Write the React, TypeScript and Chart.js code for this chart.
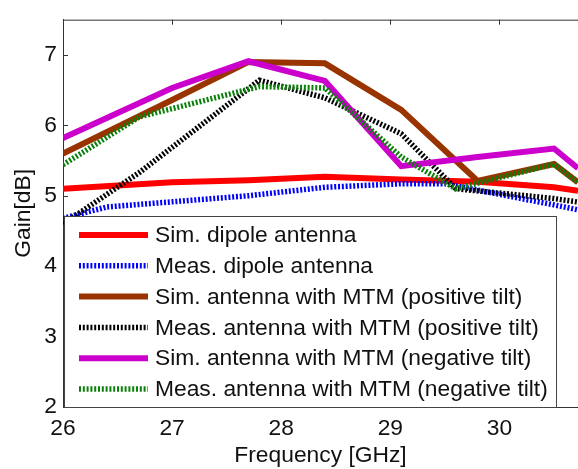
import React, { useEffect, useRef } from 'react';
import { Chart, registerables } from 'chart.js';

Chart.register(...registerables);

const xTicks = [26, 27, 28, 29, 30];
const yTicks = [2, 3, 4, 5, 6, 7];
const xMin = 26;
const xMax = 30.72;
const yMin = 2;
const yMax = 7.5;

const seriesLabels = [
  'Sim. dipole antenna',
  'Meas. dipole antenna',
  'Sim. antenna with MTM (positive tilt)',
  'Meas. antenna with MTM (positive tilt)',
  'Sim. antenna with MTM (negative tilt)',
  'Meas. antenna with MTM (negative tilt)',
];

const simFreq = [26, 27, 27.7, 28.4, 29.1, 29.8, 30.5, 30.72];
const simDipole = [5.1, 5.19, 5.22, 5.27, 5.23, 5.2, 5.12, 5.07];
const simPositive = [5.6, 6.36, 6.9, 6.88, 6.22, 5.21, 5.45, 5.19];
const simNegative = [5.82, 6.53, 6.91, 6.63, 5.42, 5.55, 5.67, 5.39];

const measDipoleFreq = [26, 26.4, 27.7, 28.4, 29.1, 29.5, 30.5, 30.72];
const measDipole = [4.68, 4.84, 5.0, 5.12, 5.17, 5.17, 4.87, 4.8];

const measFreq = [26, 26.7, 27.8, 28.4, 29.1, 29.6, 30.5, 30.72];
const measPositive = [4.6, 5.33, 6.64, 6.39, 5.88, 5.1, 4.96, 4.91];
const measNegative = [5.44, 6.12, 6.55, 6.53, 5.55, 5.1, 5.45, 5.19];

const colors = ['#ff0000', '#0000ff', '#993300', '#000000', '#cc00cc', '#0a800a'];

const FONT = '"Liberation Sans", Arial, sans-serif';
const FONT_SIZE = 22.8;

const toPts = (xs: number[], ys: number[]) => xs.map((x, i) => ({ x, y: ys[i] }));

const framePlugin = {
  id: 'frame',
  afterDraw(chart: any) {
    const { ctx, chartArea } = chart;
    const xs = chart.scales.x;
    const ys = chart.scales.y;
    ctx.save();
    ctx.strokeStyle = '#333';
    ctx.lineWidth = 1;
    ctx.beginPath();
    ctx.moveTo(chartArea.left, chartArea.top + 0.5);
    ctx.lineTo(chartArea.right, chartArea.top + 0.5);
    ctx.stroke();
    const tl = 5;
    ctx.beginPath();
    for (const t of xTicks) {
      const px = Math.round(xs.getPixelForValue(t)) + 0.5;
      ctx.moveTo(px, chartArea.bottom);
      ctx.lineTo(px, chartArea.bottom - tl);
      ctx.moveTo(px, chartArea.top);
      ctx.lineTo(px, chartArea.top + tl);
    }
    for (const t of yTicks) {
      const py = Math.round(ys.getPixelForValue(t)) + 0.5;
      ctx.moveTo(chartArea.left, py);
      ctx.lineTo(chartArea.left + tl, py);
    }
    ctx.stroke();

    const bx = chartArea.left + 1;
    const by = 216;
    const bw = 556 - bx;
    const bh = chartArea.bottom - by;
    ctx.fillStyle = '#ffffff';
    ctx.fillRect(bx, by, bw, bh);
    ctx.strokeStyle = '#444';
    ctx.strokeRect(bx + 0.5, by + 0.5, bw, bh);
    const rowY0 = 235;
    const rowStep = 30.8;
    chart.data.datasets.forEach((ds: any, i: number) => {
      const y = rowY0 + i * rowStep;
      ctx.save();
      ctx.strokeStyle = ds.borderColor;
      ctx.lineWidth = ds.borderWidth;
      ctx.setLineDash(ds.borderDash || []);
      ctx.lineCap = 'butt';
      ctx.beginPath();
      ctx.moveTo(79, y);
      ctx.lineTo(148, y);
      ctx.stroke();
      ctx.restore();
      ctx.fillStyle = '#111';
      ctx.font = `${FONT_SIZE}px ${FONT}`;
      ctx.textBaseline = 'middle';
      ctx.textAlign = 'left';
      ctx.fillText(ds.label, 155, y + 1);
    });
    ctx.restore();
  },
};

export default function App() {
  const ref = useRef<HTMLCanvasElement | null>(null);

  useEffect(() => {
    document.body.style.margin = '0';
    const canvas = ref.current;
    if (!canvas) return;
    const mk = (i: number, xs: number[], ys: number[], dashed: boolean, order: number) => ({
      label: seriesLabels[i],
      data: toPts(xs, ys),
      borderColor: colors[i],
      backgroundColor: colors[i],
      borderWidth: dashed ? 5.5 : 6,
      borderDash: dashed ? [2, 1.8] : [],
      borderCapStyle: 'butt',
      borderJoinStyle: 'miter',
      pointRadius: 0,
      tension: 0,
      fill: false,
      order,
    });
    const chart = new Chart(canvas, {
      type: 'line',
      data: {
        datasets: [
          mk(0, simFreq, simDipole, false, 6),
          mk(1, measDipoleFreq, measDipole, true, 5),
          mk(2, simFreq, simPositive, false, 4),
          mk(3, measFreq, measPositive, true, 3),
          mk(4, simFreq, simNegative, false, 2),
          mk(5, measFreq, measNegative, true, 1),
        ] as any,
      },
      options: {
        animation: false,
        responsive: false,
        maintainAspectRatio: false,
        devicePixelRatio: 1,
        layout: { padding: { top: 10, left: 0, right: 0, bottom: 0 } },
        plugins: {
          legend: { display: false },
          tooltip: { enabled: false },
        },
        scales: {
          x: {
            type: 'linear',
            min: xMin,
            max: xMax,
            afterBuildTicks: (s: any) => {
              s.ticks = xTicks.map((v) => ({ value: v }));
            },
            afterFit: (s: any) => {
              s.height = 62;
            },
            grid: { display: true, drawOnChartArea: false, drawTicks: false, color: '#333' },
            border: { display: true, color: '#333', width: 1 },
            ticks: {
              padding: 8,
              color: '#111',
              font: { family: FONT, size: FONT_SIZE },
              maxRotation: 0,
              autoSkip: false,
              callback: (v: any) => String(v),
            },
            title: {
              display: true,
              text: 'Frequency [GHz]',
              color: '#111',
              font: { family: FONT, size: FONT_SIZE },
              padding: { top: 0, bottom: 0 },
            },
          },
          y: {
            type: 'linear',
            min: yMin,
            max: yMax,
            afterBuildTicks: (s: any) => {
              s.ticks = yTicks.map((v) => ({ value: v }));
            },
            afterFit: (s: any) => {
              s.width = 63;
            },
            grid: { display: true, drawOnChartArea: false, drawTicks: false, color: '#333' },
            border: { display: true, color: '#333', width: 1 },
            ticks: {
              padding: 6,
              color: '#111',
              font: { family: FONT, size: FONT_SIZE },
              callback: (v: any) => String(v),
            },
            title: {
              display: true,
              text: 'Gain[dB]',
              color: '#111',
              font: { family: FONT, size: FONT_SIZE },
              padding: { top: 10, bottom: 0 },
            },
          },
        },
      },
      plugins: [framePlugin],
    } as any);
    return () => chart.destroy();
  }, []);

  return (
    <div style={{ width: 578, height: 469, position: 'relative', overflow: 'hidden', background: '#fff' }}>
      <canvas ref={ref} width={578} height={469} style={{ display: 'block' }} />
    </div>
  );
}
